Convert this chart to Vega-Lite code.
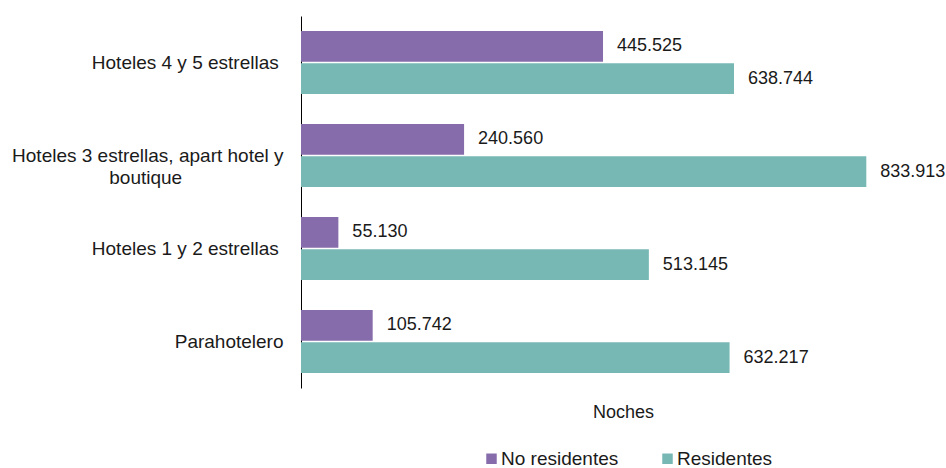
{
  "$schema": "https://vega.github.io/schema/vega-lite/v6.json",
  "width": 644,
  "height": 372,
  "autosize": "none",
  "padding": {"left": 301, "top": 16, "right": 1, "bottom": 80},
  "background": "white",
  "config": {
    "font": "Liberation Sans",
    "view": {"stroke": null},
    "locale": {"number": {"decimal": ",", "thousands": ".", "grouping": [3], "currency": ["", ""]}}
  },
  "data": {
    "values": [
      {"categoria": "Hoteles 4 y 5 estrellas", "tipo": "No residentes", "noches": 445525},
      {"categoria": "Hoteles 4 y 5 estrellas", "tipo": "Residentes", "noches": 638744},
      {"categoria": "Hoteles 3 estrellas, apart hotel y boutique", "tipo": "No residentes", "noches": 240560},
      {"categoria": "Hoteles 3 estrellas, apart hotel y boutique", "tipo": "Residentes", "noches": 833913},
      {"categoria": "Hoteles 1 y 2 estrellas", "tipo": "No residentes", "noches": 55130},
      {"categoria": "Hoteles 1 y 2 estrellas", "tipo": "Residentes", "noches": 513145},
      {"categoria": "Parahotelero", "tipo": "No residentes", "noches": 105742},
      {"categoria": "Parahotelero", "tipo": "Residentes", "noches": 632217}
    ]
  },
  "encoding": {
    "y": {
      "field": "categoria",
      "type": "nominal",
      "sort": ["Hoteles 4 y 5 estrellas", "Hoteles 3 estrellas, apart hotel y boutique", "Hoteles 1 y 2 estrellas", "Parahotelero"],
      "scale": {"paddingInner": 0.32, "paddingOuter": 0.16},
      "axis": {
        "title": null,
        "ticks": false,
        "domainColor": "#000000",
        "domainWidth": 1,
        "labelFontSize": 19,
        "labelColor": "#1a1a1a",
        "labelPadding": 18,
        "labelLineHeight": 22,
        "labelLimit": 400,
        "labelExpr": "datum.value == 'Hoteles 3 estrellas, apart hotel y boutique' ? ['Hoteles 3 estrellas, apart hotel y', 'boutique\u2003\u2003\u2003\u2003\u2003\u2006\u2006\u200b'] : (datum.value == 'Parahotelero' ? datum.value : datum.value + '\u2005\u200b')"
      }
    },
    "yOffset": {
      "field": "tipo",
      "type": "nominal",
      "sort": ["No residentes", "Residentes"],
      "scale": {"paddingInner": 0.04}
    },
    "x": {
      "field": "noches",
      "type": "quantitative",
      "scale": {"domain": [0, 950000], "nice": false},
      "axis": {
        "title": "Noches",
        "titleFontSize": 18,
        "titleFontWeight": "normal",
        "titleColor": "#1a1a1a",
        "titlePadding": 15,
        "domain": false,
        "ticks": false,
        "labels": false,
        "grid": false
      }
    }
  },
  "layer": [
    {
      "mark": {"type": "bar"},
      "encoding": {
        "color": {
          "field": "tipo",
          "type": "nominal",
          "scale": {"domain": ["No residentes", "Residentes"], "range": ["#866cab", "#77b8b5"]},
          "legend": {
            "title": null,
            "orient": "none",
            "direction": "horizontal",
            "legendX": 181,
            "legendY": 433,
            "symbolType": "square",
            "symbolSize": 110,
            "symbolStrokeWidth": 0,
            "labelFontSize": 19,
            "labelColor": "#1a1a1a",
            "labelOffset": 0,
            "columnPadding": 39
          }
        }
      }
    },
    {
      "mark": {"type": "text", "align": "left", "baseline": "middle", "dx": 14, "fontSize": 18, "color": "#1a1a1a"},
      "encoding": {
        "text": {"field": "noches", "type": "quantitative", "format": ",d"}
      }
    }
  ]
}
